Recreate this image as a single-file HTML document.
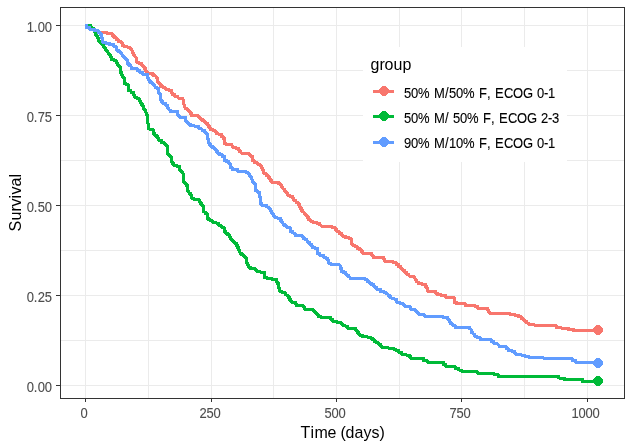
<!DOCTYPE html>
<html lang="en"><head><meta charset="utf-8"><title>Survival</title>
<style>
html,body{margin:0;padding:0;background:#fff;}
body{width:632px;height:448px;overflow:hidden;}
svg{display:block;}
text{font-family:"Liberation Sans",Arial,sans-serif;}
.ax{fill:#4d4d4d;stroke:#4d4d4d;stroke-width:0.1px;}
.lt,.ti{fill:#000;}
.lg{fill:#000;stroke:#000;stroke-width:0.1px;}
</style></head>
<body>
<svg width="632" height="448" viewBox="0 0 632 448">
<rect width="632" height="448" fill="#fff"/>
<g stroke="#ebebeb" stroke-width="1" shape-rendering="crispEdges">
<line x1="85.5" x2="85.5" y1="8" y2="398"/>
<line x1="148.5" x2="148.5" y1="8" y2="398"/>
<line x1="211.5" x2="211.5" y1="8" y2="398"/>
<line x1="273.5" x2="273.5" y1="8" y2="398"/>
<line x1="336.5" x2="336.5" y1="8" y2="398"/>
<line x1="399.5" x2="399.5" y1="8" y2="398"/>
<line x1="461.5" x2="461.5" y1="8" y2="398"/>
<line x1="524.5" x2="524.5" y1="8" y2="398"/>
<line x1="587.5" x2="587.5" y1="8" y2="398"/>
<line y1="25.5" y2="25.5" x1="61" x2="624"/>
<line y1="70.5" y2="70.5" x1="61" x2="624"/>
<line y1="115.5" y2="115.5" x1="61" x2="624"/>
<line y1="160.5" y2="160.5" x1="61" x2="624"/>
<line y1="205.5" y2="205.5" x1="61" x2="624"/>
<line y1="250.5" y2="250.5" x1="61" x2="624"/>
<line y1="295.5" y2="295.5" x1="61" x2="624"/>
<line y1="340.5" y2="340.5" x1="61" x2="624"/>
<line y1="385.5" y2="385.5" x1="61" x2="624"/>
</g>
<g shape-rendering="crispEdges">
<path d="M85 25.5H86.62V27.50H89.88V29.50H91.5H94.65V30.80H97.8H98.45V32.50H99.1L106.7 32.5H107.00V33.50H107.3L111.1 33.5H112.05V35.20H113H113.47V36.45H114.42V37.70H114.9H116.15V39.60H117.4H118.35V41.50H119.3H120.45V42.30H121.6H122.05V45.30H122.5H123.50V46.10H124.5H127.05V47.10H129.6H130.11V48.55H131.14V50.00H131.65H132.12V52.22H133.07V54.43H133.54H134.01V55.70H134.96V56.96H135.44H136.07V62.03H136.71H138.61V63.29H140.51H141.30V64.88H142.88V66.46H143.67H144.30V68.67H145.57V70.89H146.2H146.83V72.16H148.10V73.42H148.73L151.9 73.42H152.53V74.69H153.80V75.95H154.43H156.01V77.85H157.59H157.91V82.28H158.23H158.86V83.86H160.13V85.44H160.76H161.55V86.70H163.13V87.97H163.92H165.50V89.24H167.09H168.99V90.51H170.89H171.36V92.41H172.31V94.30H172.78H174.37V96.20H175.95H177.97V98.10H180H181.25V98.75H182.5H183.08V100.00H183.67H183.99V105.06H184.3H184.94V108.23H185.57H187.15V110.13H188.73H189.20V111.71H190.15V113.29H190.63H191.58V115.44H192.53H195.38V115.82H198.23H198.70V117.08H199.65V118.35H200.13H200.92V119.62H202.50V120.89H203.29H204.24V122.16H206.14V123.42H207.09H207.56V125.00H208.51V126.58H208.99H209.47V127.97H210.41V129.37H210.89H212.94V130.70H215H215.47V132.28H216.43V133.86H216.9H218.80V134.49H220.7H221.49V136.39H223.07V138.29H223.86H224.50V143.35H225.13H226.08V144.24H227.03H229.25V144.62H231.46H231.93V146.07H232.88V147.53H233.35H235.56V148.04H237.78H238.25V149.81H239.20V151.58H239.68H240.95V153.10H242.22H245.06V153.48H247.91H248.86V154.94H250.76V156.39H251.71H252.34V160.44H252.97H254.24V162.72H255.51H257.40V164.24H259.3H259.94V165.82H261.20V167.41H261.84H262.31V169.94H263.26V172.47H263.73H264.18V173.80H264.62H266.20V175.70H267.78H268.31V177.39H269.36V179.07H270.42V180.76H270.95H271.90V182.41H272.85H275.38V182.66H277.91H278.70V183.93H280.29V185.19H281.08H281.71V187.09H282.98V188.99H283.61H284.40V190.88H285.98V192.78H286.77H287.25V194.37H288.20V195.95H288.67H290.57V196.58H292.47H292.95V198.48H293.90V200.38H294.37H295.95V202.28H297.53H298.16V204.50H299.43V206.71H300.06H300.53V208.61H301.48V210.51H301.96H302.62V211.83H303.96V213.16H304.62H305.15V214.64H306.20V216.11H307.25V217.59H307.78H308.57V219.37H310.16V221.14H310.95H313.16V222.66H315.38H317.28V223.67H319.18H319.81V224.94H321.08V226.20H321.71H325.82V226.71H329.94H332.47V227.72H335H335.63V229.62H336.90V231.52H337.53H339.12V233.42H340.7H341.49V235.00H343.07V236.58H343.86H345.44V237.59H347.03H348.92V238.86H350.82H351.45V244.18H352.09H353.04V245.44H354.94V246.71H355.89H357.15V248.29H359.68V249.87H360.95H361.43V251.45H362.38V253.04H362.85H363.93V253.67H365H368.12V253.75H371.25H371.84V255.51H373.02V257.28H373.61H378.36V257.53H383.1H383.58V259.30H384.53V261.08H385H388.16V261.33H391.33H393.23V262.85H395.13H396.24V264.62H398.45V266.39H399.56H400.30V267.87H401.78V269.34H403.25V270.82H403.99H404.94V272.72H406.83V274.62H407.78H408.89V276.08H410H411.90V276.33H413.8H414.27V278.23H415.22V280.13H415.7H416.65V282.02H418.54V283.92H419.49H422.34V284.56H425.19H425.66V286.46H426.61V288.35H427.09H427.40V291.27H427.72H431.20V291.52H434.68H435.63V293.10H437.53V294.68H438.48H441.33V295.32H444.18H445.44V297.22H446.71H450.19V297.47H453.67H454.12V302.28H454.56H456.64V303.54H458.73H461.58V303.80H464.43H465.38V305.44H466.33H469.81V305.70H473.29H474.88V306.71H476.46H477.73V308.23H478.99H483.11V308.61H487.22H487.69V310.19H488.64V311.77H489.11H489.56V313.04H490H499.38V313.50H508.75H510.00V314.50H511.25H514.38V315.00H517.5H518.75V316.88H521.25V318.75H522.5H523.33V320.17H525.00V321.58H526.67V323.00H527.5H528.75V324.50H530H533.75V325.00H537.5H546.25V325.75H555H556.38V327.50H557.75H560.88V328.00H564H568.38V329.50H572.75H573.38V330.50H574L598 330.5" fill="none" stroke="#F8766D" stroke-width="3" stroke-linejoin="round"/>
<path d="M3 0H7V1H8V2H9V3H10V7H9V8H8V9H7V10H3V9H2V8H1V7H0V3H1V2H2V1H3Z" transform="translate(593 325)" fill="#F8766D"/>
<path d="M85 25.5L89.5 25.5H90.35V27.00H92.05V28.50H93.75V30.00H94.6H94.90V33.00H95.2H95.65V34.50H96.55V36.00H97H97.50V38.00H98H98.70V41.00H99.4H99.95V42.35H101.05V43.70H101.6H102.27V45.25H103.62V46.80H104.3H104.81V48.40H105.82V50.00H106.33H106.86V51.48H107.91V52.95H108.96V54.43H109.49H110.12V56.96H111.40V59.49H112.03H113.92V60.76H115.82H116.29V62.66H117.24V64.56H117.72H118.35V65.83H119.62V67.09H120.25H120.76V72.78H121.27H121.81V75.00H122.88V77.22H123.42H124.05V83.54H124.68H126.27V84.81H127.85H128.48V90.51H129.11H131.01V92.41H132.91H133.54V94.94H134.81V97.47H135.44H137.03V98.73H138.61H139.31V101.27H140H140.53V102.96H141.58V104.64H142.63V106.33H143.16H143.79V109.18H145.06V112.03H145.7H146.17V114.25H147.12V116.46H147.59H147.91V124.05H148.23H148.86V129.11H149.49H151.07V129.75H152.66H153.29V133.54H153.92H154.71V135.12H156.30V136.71H157.09H157.72V138.61H158.99V140.51H159.62H161.52V142.41H163.42H164.21V143.99H165.79V145.57H166.58H167.06V150.00H167.53H167.84V154.43H168.16H168.95V155.69H170.54V156.96H171.33H171.65V162.03H171.96H172.59V163.61H173.86V165.19H174.49H176.70V166.46H178.92H179.56V170.25H180.19H180.82V171.51H182.09V172.78H182.72H183.03V178.48H183.35H183.99V182.91H184.62H185.25V184.18H186.52V185.44H187.15H187.78V191.77H188.42H189.05V193.36H190.32V194.94H190.95H191.58V198.10H192.22H193.49V199.11H194.75H196.64V199.37H198.54H199.27V201.90H200H200.53V203.38H201.58V204.85H202.63V206.33H203.16H203.80V212.03H204.43H205.69V213.92H206.96H207.28V218.35H207.59H208.38V219.62H209.97V220.89H210.76H212.97V222.78H215.19H216.77V223.42H218.35H218.99V225.95H219.62H221.52V227.22H223.42H224.05V231.65H224.68H225.63V233.23H227.53V234.81H228.48H229.11V237.03H230.38V239.24H231.01H231.85V240.72H233.54V242.19H235.23V243.67H236.08H236.55V245.57H237.50V247.47H237.97H238.63V250.35H239.96V253.23H240.63H241.42V254.50H243.01V255.76H243.8H244.43V257.02H245.70V258.29H246.33H246.65V262.72H246.96H247.44V264.94H248.38V267.15H248.86H250.44V268.42H252.03H253.30V268.67H254.56H255.35V270.25H256.93V271.84H257.72H260.88V272.22H264.05H264.69V277.91H265.32H267.22V278.92H269.11H272.60V279.43H276.08H276.49V281.52H277.31V283.61H277.72H278.48V288.04H279.24H279.88V291.84H280.51H282.09V292.85H283.67H285.57V295.00H287.47H288.10V297.25H289.37V299.49H290H290.48V300.76H291.43V302.03H291.9H293.48V302.66H295.06H295.53V304.05H296.48V305.44H296.96H300.12V305.82H303.29H303.76V307.53H304.71V309.24H305.19H308.67V309.62H312.15H312.94V310.88H314.53V312.15H315.32H315.95V313.54H317.21V314.94H318.48V316.33H319.11H321.01V317.22H322.91H326.39V317.59H329.87H330.82V319.49H332.72V321.39H333.67H336.84V322.28H340H340.79V323.74H342.37V325.19H343.16H344.75V326.08H346.33H347.91V328.35H349.49H352.34V328.61H355.19H355.82V330.51H357.09V332.41H357.72H358.35V333.87H359.62V335.32H360.25H362.47V336.58H364.68H367.34V337.09H370H370.83V338.48H372.50V339.86H374.17V341.25H375H376.25V342.88H378.75V344.50H380H380.62V346.00H381.88V347.50H382.5H387.50V348.00H392.5H393.75V349.25H396.25V350.50H397.5H398.75V352.50H400H401.88V354.50H403.75H406.25V355.00H408.75H409.38V356.62H410.62V358.25H411.25H416.88V358.75H422.5H423.75V360.75H425H427.25V362.00H429.5H436.00V362.50H442.5H443.44V364.38H445.31V366.25H446.25H450.00V366.75H453.75H455.62V368.75H457.5H458.75V370.00H461.25V371.25H462.5H469.38V371.75H476.25H477.50V373.25H478.75H485.62V373.75H492.5H494.38V374.50H496.25H498.25V376.50H500.25L558.5 376.5H558.75V378.00H559L564 378H564.25V379.50H564.5L582.3 379.5H582.55V381.50H582.8L598 381.5" fill="none" stroke="#00BA38" stroke-width="3" stroke-linejoin="round"/>
<path d="M3 0H7V1H8V2H9V3H10V7H9V8H8V9H7V10H3V9H2V8H1V7H0V3H1V2H2V1H3Z" transform="translate(593 376)" fill="#00BA38"/>
<path d="M85 25.5H86.62V27.50H89.88V29.50H91.5H94.65V30.80H97.8H98.60V32.70H100.20V34.60H101H101.65V38.40H102.3H102.90V42.20H103.5H105.40V43.10H107.3H109.50V44.40H111.7H113.95V46.60H116.2H116.33V50.00H116.46H118.35V51.90H120.25H120.78V53.38H121.84V54.85H122.89V56.33H123.42H124.21V57.91H125.79V59.49H126.58H127.22V63.29H127.85H128.48V64.55H129.75V65.82H130.38H131.01V68.35H131.65H134.18V68.99H136.71H137.66V70.57H139.56V72.15H140.51H142.41V74.05H144.3H145.88V74.68H147.47H147.78V78.48H148.1H148.57V80.06H149.52V81.65H150H150.79V82.92H152.37V84.18H153.16H153.79V85.76H155.06V87.34H155.7H156.96V88.61H158.23H158.86V93.67H159.49H160.19V100.00H160.89H161.52V101.58H162.79V103.16H163.42H165.32V105.06H167.22H167.85V108.86H168.48H169.11V110.12H170.38V111.39H171.01H174.18V111.65H177.34H177.98V115.82H178.61H179.56V117.09H180.51H182.72V117.34H184.94H185.57V120.89H186.2H186.83V122.47H188.10V124.05H188.73H190.31V125.95H191.9H194.75V126.58H197.59H198.86V128.86H200.13H202.02V130.38H203.92H204.56V131.96H205.83V133.54H206.46H207.09V138.61H207.72H208.36V143.04H208.99H209.62V144.62H210.89V146.20H211.52H212.39V147.62H214.13V149.05H215H215.47V150.31H216.43V151.58H216.9H217.85V153.17H219.75V154.75H220.7H222.28V156.65H223.86H224.50V160.44H225.13H226.71V161.71H228.29H228.93V163.61H229.56H230.19V167.41H230.82H232.08V169.30H233.35H234.94V169.56H236.52H237.47V171.20H238.42H241.58V171.58H244.75H246.33V172.85H247.91H248.38V174.22H249.31V175.59H250.24V176.96H250.7H251.17V179.18H252.12V181.39H252.59H253.16V182.65H254.30V183.92H254.87H255.31V190.89H255.76H257.34V192.15H258.92H259.56V197.22H260.19H260.50V203.54H260.82H261.77V205.19H262.72H264.31V205.44H265.89H266.84V207.03H268.73V208.61H269.68H270.31V210.82H271.59V213.04H272.22H272.75V214.64H273.80V216.25H274.85V217.85H275.38H277.60V218.35H279.81H280.44V220.44H281.71V222.53H282.34H283.00V224.18H284.34V225.82H285H286.26V227.09H287.53H288.79V227.72H290.06H290.38V231.52H290.7H292.60V233.04H294.49H295.12V235.32H295.76H298.61V235.57H301.46H302.09V237.02H303.36V238.48H303.99H305.25V239.75H306.52H307.00V241.20H307.95V242.66H308.42H309.69V244.18H310.95H311.43V245.76H312.38V247.34H312.85H314.75V248.61H316.65H317.40V253.67H318.16H319.94V255.57H321.71H323.61V257.09H325.51H326.14V258.54H327.41V260.00H328.04H328.80V263.80H329.56H331.33V264.43H333.1H334.05V264.49H335H337.22V264.87H339.43H340.06V268.29H340.7H341.33V271.46H341.96H343.54V272.72H345.13H345.76V274.12H347.03V275.51H347.66H348.45V276.97H350.03V278.42H350.82H356.84V278.67H362.85H364.75V279.68H366.65H367.44V281.39H369.02V283.10H369.81H371.39V284.37H372.97H373.45V285.82H374.40V287.28H374.87H376.77V289.18H378.67H380.57V291.46H382.47H384.05V292.72H385.63H386.42V293.99H388.01V295.25H388.8H389.43V296.64H390.70V298.04H391.33H393.86V299.05H396.39H396.71V302.47H397.03H399.88V303.73H402.72H403.35V305.00H404.62V306.27H405.25H407.78V306.90H410.32H410.79V309.24H411.27H413.16V309.87H415.06H415.69V311.26H416.96V312.66H418.23V314.05H418.86H421.08V314.56H423.29H424.24V316.20H425.19H432.60V316.96H440H443.48V317.34H446.96H447.91V319.49H448.86H449.34V321.71H450.29V323.92H450.76H452.34V325.19H453.92H455.19V327.34H456.46H462.47V327.47H468.48H469.43V328.99H470.38H471.01V332.78H471.65H472.91V334.05H474.18H474.81V336.33H475.44H477.02V337.22H478.61H480.19V339.37H481.77H485.88V339.62H490H491.26V341.65H492.53H493.48V343.16H494.43H496.01V343.92H497.59H498.06V345.12H499.01V346.33H499.49H502.34V346.71H505.19H506.14V348.61H507.09H508.36V350.76H509.62H511.83V351.52H514.05H514.52V352.91H515.48V354.30H515.95H517.98V354.56H520H520.62V355.00H521.25H524.38V356.25H527.5H528.75V357.50H530H542.50V358.00H555H562.62V358.75H570.25H572.12V360.75H574H575.88V362.50H577.75L598 362.5" fill="none" stroke="#619CFF" stroke-width="3" stroke-linejoin="round"/>
<path d="M3 0H7V1H8V2H9V3H10V7H9V8H8V9H7V10H3V9H2V8H1V7H0V3H1V2H2V1H3Z" transform="translate(593 358)" fill="#619CFF"/>
</g>
<g shape-rendering="crispEdges">
<rect x="363" y="46.6" width="204" height="115.4" fill="#fff"/>
<text class="lt" font-size="16.6" transform="translate(370.4 69.6) scale(0.9639 1)" x="0 9.34 14.53 23.86 33.2">group</text>
<line x1="373" x2="394" y1="91.5" y2="91.5" stroke="#F8766D" stroke-width="3"/>
<path d="M3 0H7V1H8V2H9V3H10V7H9V8H8V9H7V10H3V9H2V8H1V7H0V3H1V2H2V1H3Z" transform="translate(379 86.0)" fill="#F8766D"/>
<text class="lg" font-size="14" transform="translate(404 98) scale(0.9286 1)" x="0 7.54 15.08 28 32.31 44.15 48.46 56 63.54 76.46 80.77 89.38 93.69 98 107.69 117.38 128.15 138.92 143.23 150.77 155.08">50% M/50% F, ECOG 0-1</text>
<line x1="373" x2="394" y1="116.5" y2="116.5" stroke="#00BA38" stroke-width="3"/>
<path d="M3 0H7V1H8V2H9V3H10V7H9V8H8V9H7V10H3V9H2V8H1V7H0V3H1V2H2V1H3Z" transform="translate(379 111.0)" fill="#00BA38"/>
<text class="lg" font-size="14" transform="translate(404 123) scale(0.9286 1)" x="0 7.54 15.08 28 32.31 44.15 48.46 52.77 60.31 67.85 80.77 85.08 93.69 98 102.31 112 121.69 132.46 143.23 147.54 155.08 159.38">50% M/ 50% F, ECOG 2-3</text>
<line x1="373" x2="394" y1="142.5" y2="142.5" stroke="#619CFF" stroke-width="3"/>
<path d="M3 0H7V1H8V2H9V3H10V7H9V8H8V9H7V10H3V9H2V8H1V7H0V3H1V2H2V1H3Z" transform="translate(379 137.0)" fill="#619CFF"/>
<text class="lg" font-size="14" transform="translate(404 148) scale(0.9286 1)" x="0 7.54 15.08 28 32.31 44.15 48.46 56 63.54 76.46 80.77 89.38 93.69 98 107.69 117.38 128.15 138.92 143.23 150.77 155.08">90% M/10% F, ECOG 0-1</text>
</g>
<rect x="60.5" y="7.5" width="564" height="391" fill="none" stroke="#333" stroke-width="1" shape-rendering="crispEdges"/>
<g stroke="#333" stroke-width="1" shape-rendering="crispEdges">
<line x1="85.5" x2="85.5" y1="399" y2="402"/>
<line x1="211.5" x2="211.5" y1="399" y2="402"/>
<line x1="336.5" x2="336.5" y1="399" y2="402"/>
<line x1="461.5" x2="461.5" y1="399" y2="402"/>
<line x1="587.5" x2="587.5" y1="399" y2="402"/>
<line y1="25.5" y2="25.5" x1="56" x2="60"/>
<line y1="115.5" y2="115.5" x1="56" x2="60"/>
<line y1="205.5" y2="205.5" x1="56" x2="60"/>
<line y1="295.5" y2="295.5" x1="56" x2="60"/>
<line y1="385.5" y2="385.5" x1="56" x2="60"/>
</g>
<g>
<text class="ax" font-size="14" transform="translate(80.6 418) scale(0.9286 1)" x="0">0</text>
<text class="ax" font-size="14" transform="translate(199.6 418) scale(0.9286 1)" x="0 7.54 15.08">250</text>
<text class="ax" font-size="14" transform="translate(324.6 418) scale(0.9286 1)" x="0 7.54 15.08">500</text>
<text class="ax" font-size="14" transform="translate(449.6 418) scale(0.9286 1)" x="0 7.54 15.08">750</text>
<text class="ax" font-size="14" transform="translate(571.6 418) scale(0.9286 1)" x="0 7.54 15.08 22.62">1000</text>
<text class="ax" font-size="14" transform="translate(26.7 32) scale(0.9286 1)" x="0 7.54 11.85 19.38">1.00</text>
<text class="ax" font-size="14" transform="translate(26.7 122) scale(0.9286 1)" x="0 7.54 11.85 19.38">0.75</text>
<text class="ax" font-size="14" transform="translate(26.7 212) scale(0.9286 1)" x="0 7.54 11.85 19.38">0.50</text>
<text class="ax" font-size="14" transform="translate(26.7 302) scale(0.9286 1)" x="0 7.54 11.85 19.38">0.25</text>
<text class="ax" font-size="14" transform="translate(26.7 392) scale(0.9286 1)" x="0 7.54 11.85 19.38">0.00</text>
</g>
<text class="ti" font-size="16.9" transform="translate(300.5 437.8) scale(0.9467 1)" x="0 10.56 14.79 28.52 38.02 42.25 47.53 57.04 66.54 74.99 83.44">Time (days)</text>
<text class="ti" font-size="16.9" transform="translate(21.2 231.6) rotate(-90) scale(0.9467 1)" x="0 11.62 21.12 26.41 34.86 39.08 47.53 57.04">Survival</text>
</svg>
</body></html>
